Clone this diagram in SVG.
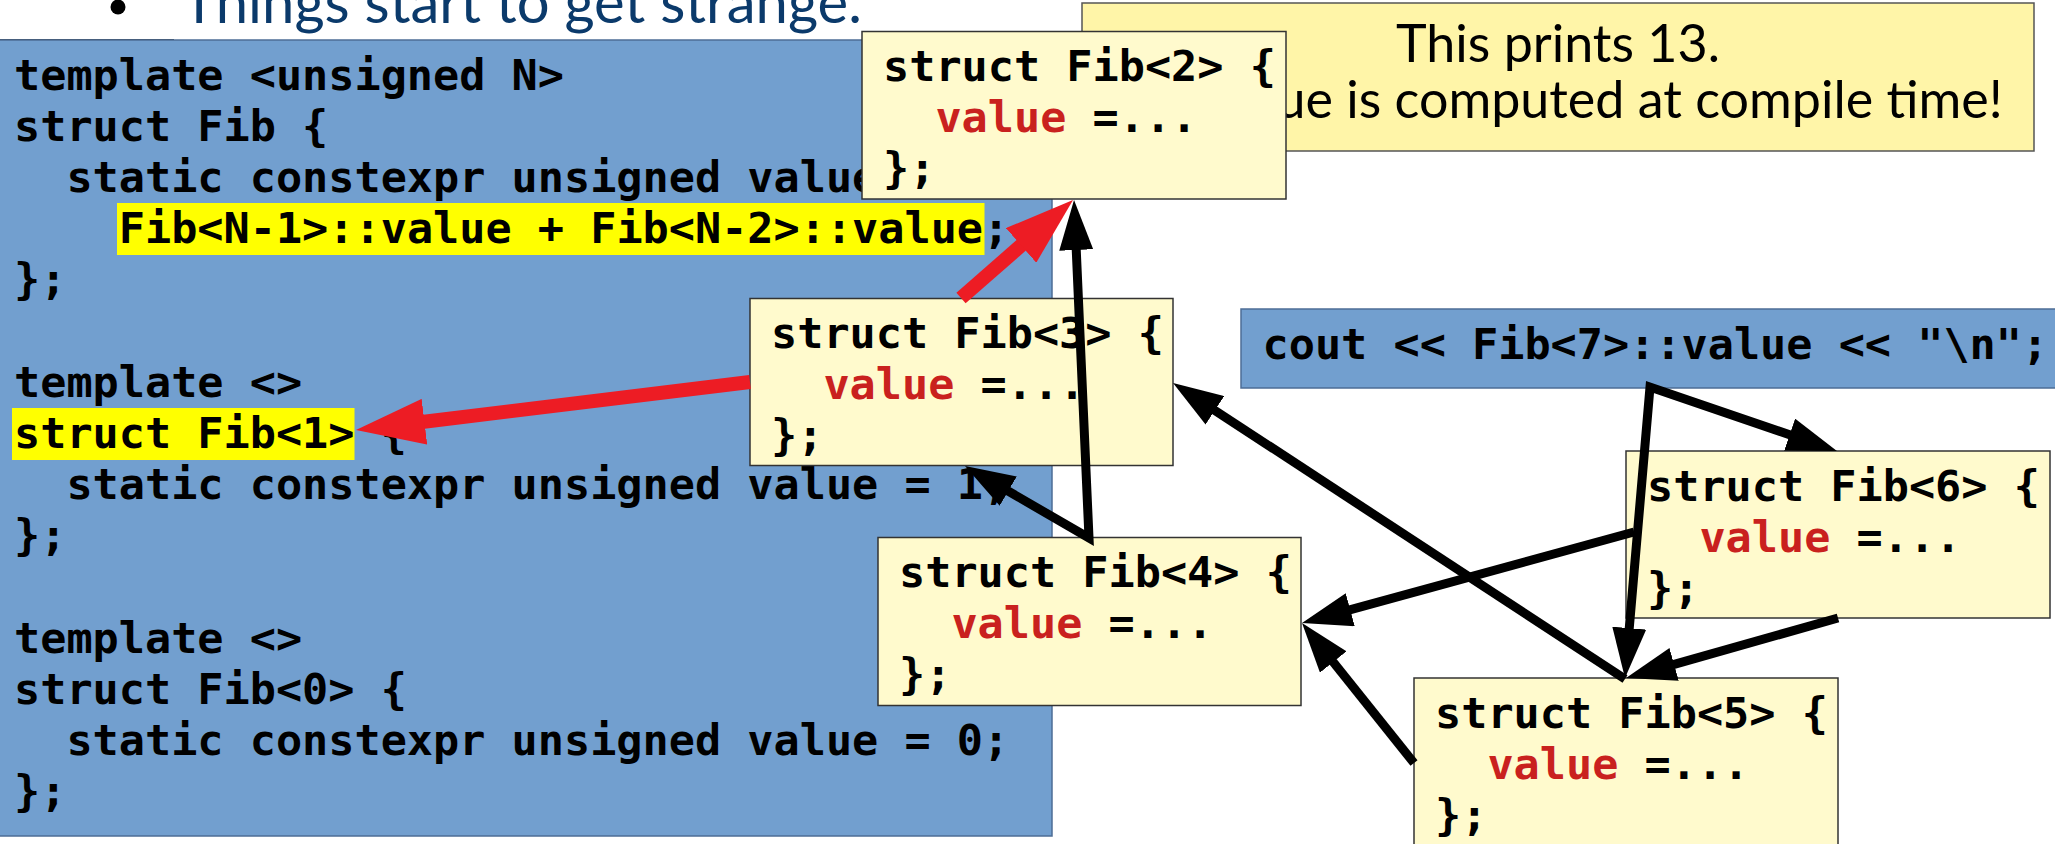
<svg xmlns="http://www.w3.org/2000/svg" width="2055" height="844" viewBox="0 0 2055 844">
  <style>
    .code { font-family: "DejaVu Sans Mono", "Liberation Mono", monospace; font-weight: bold; font-size: 43.5px; fill: #000; }
    .kw { fill: #c9211e; }
    .fib rect { fill: #fffacd; stroke: #333; stroke-width: 1.5; }
    .panel { fill: #729fcf; stroke: #4d6d96; stroke-width: 1.5; }
    .hl { fill: #ffff00; }
    .note { font-family: Lato, "Open Sans", sans-serif; font-size: 52px; fill: #000; }
    .title { font-family: Lato, "Open Sans", sans-serif; font-size: 58px; fill: #0b3a6b; }
    .blk { stroke: #000; stroke-width: 9; fill: none; stroke-linejoin: miter; }
    .red { stroke: #ed1c24; stroke-width: 14; fill: none; }
  </style>
  <defs>
    <marker id="headBlack" markerUnits="userSpaceOnUse" markerWidth="50" markerHeight="34" refX="10" refY="17" orient="auto-start-reverse">
      <path d="M0,0 L50,17 L0,34 z" fill="#000"/>
    </marker>
    <marker id="headRed" markerUnits="userSpaceOnUse" markerWidth="69" markerHeight="46" refX="19" refY="23" orient="auto">
      <path d="M0,0 L69,23 L0,46 z" fill="#ed1c24"/>
    </marker>
  </defs>

  <!-- slide heading -->
  <g id="heading">
    <circle cx="118" cy="7" r="7.5" fill="#000"/>
    <text class="title" x="182" y="23">Things start to get strange.</text>
  </g>

  <!-- primary template and its specialisations -->
  <g id="source">
    <line x1="0" y1="39.5" x2="174" y2="39.5" stroke="#333" stroke-width="1"/>
    <rect class="panel" x="-2" y="40" width="1054" height="796"/>
    <rect class="hl" x="117" y="203" width="867.5" height="52"/>
    <rect class="hl" x="12" y="408" width="342.5" height="52"/>
    <text class="code" x="14" y="89.6">template &lt;unsigned N&gt;</text>
    <text class="code" x="14" y="140.8">struct Fib {</text>
    <text class="code" x="66.4" y="192">static constexpr unsigned value =</text>
    <text class="code" x="118.8" y="243.2">Fib&lt;N-1&gt;::value + Fib&lt;N-2&gt;::value;</text>
    <text class="code" x="14" y="294.4">};</text>
    <text class="code" x="14" y="396.8">template &lt;&gt;</text>
    <text class="code" x="14" y="448">struct Fib&lt;1&gt; {</text>
    <text class="code" x="66.4" y="499.2">static constexpr unsigned value = 1;</text>
    <text class="code" x="14" y="550.4">};</text>
    <text class="code" x="14" y="652.8">template &lt;&gt;</text>
    <text class="code" x="14" y="704">struct Fib&lt;0&gt; {</text>
    <text class="code" x="66.4" y="755.2">static constexpr unsigned value = 0;</text>
    <text class="code" x="14" y="806.4">};</text>
  </g>

  <!-- explanatory note -->
  <g id="note">
    <rect x="1082" y="3" width="952" height="148" fill="#fff5a8" stroke="#555" stroke-width="1.5"/>
    <text class="note" x="1558" y="62" text-anchor="middle">This prints 13.</text>
    <text class="note" x="1558" y="118" text-anchor="middle">The value is computed at compile time!</text>
  </g>

  <!-- the statement that triggers instantiation -->
  <g id="main">
    <rect class="panel" x="1241" y="309" width="830" height="79"/>
    <text class="code" x="1262.5" y="359">cout &lt;&lt; Fib&lt;7&gt;::value &lt;&lt; "\n";</text>
  </g>

  <!-- instantiated structs -->
  <g id="fib2" class="fib">
    <rect x="862" y="31.5" width="424" height="167.5"/>
    <text class="code" x="883" y="81">struct Fib&lt;2&gt; {</text>
    <text class="code" x="935.4" y="132.2"><tspan class="kw">value</tspan> =...</text>
    <text class="code" x="883" y="183.4">};</text>
  </g>
  <g id="fib3" class="fib">
    <rect x="750" y="298.5" width="423" height="167"/>
    <text class="code" x="771" y="348">struct Fib&lt;3&gt; {</text>
    <text class="code" x="823.4" y="399.2"><tspan class="kw">value</tspan> =...</text>
    <text class="code" x="771" y="450.4">};</text>
  </g>
  <g id="fib4" class="fib">
    <rect x="878" y="537.5" width="423" height="168"/>
    <text class="code" x="899" y="587">struct Fib&lt;4&gt; {</text>
    <text class="code" x="951.4" y="638.2"><tspan class="kw">value</tspan> =...</text>
    <text class="code" x="899" y="689.4">};</text>
  </g>
  <g id="fib5" class="fib">
    <rect x="1414" y="678" width="424" height="168"/>
    <text class="code" x="1435" y="727.5">struct Fib&lt;5&gt; {</text>
    <text class="code" x="1487.4" y="778.7"><tspan class="kw">value</tspan> =...</text>
    <text class="code" x="1435" y="829.9">};</text>
  </g>
  <g id="fib6" class="fib">
    <rect x="1626" y="451" width="424" height="167"/>
    <text class="code" x="1647" y="500.5">struct Fib&lt;6&gt; {</text>
    <text class="code" x="1699.4" y="551.7"><tspan class="kw">value</tspan> =...</text>
    <text class="code" x="1647" y="602.9">};</text>
  </g>

  <!-- dependency arrows -->
  <g id="connectors">
    <path class="red" d="M750,382 L405.6,424" marker-end="url(#headRed)"/>
    <path class="red" d="M961,298 L1035.4,232.9" marker-end="url(#headRed)"/>
    <path class="blk" d="M999.6,486.1 L1089,538 L1075.8,240" marker-start="url(#headBlack)" marker-end="url(#headBlack)"/>
    <path class="blk" d="M1799.1,438 L1650,387 L1628.4,638.1" marker-start="url(#headBlack)" marker-end="url(#headBlack)"/>
    <path class="blk" d="M1634,532 L1340.6,612.4" marker-end="url(#headBlack)"/>
    <path class="blk" d="M1838,618 L1664.5,667.1" marker-end="url(#headBlack)"/>
    <path class="blk" d="M1625,679 L1206.5,404.9" marker-end="url(#headBlack)"/>
    <path class="blk" d="M1414,763 L1327,654.2" marker-end="url(#headBlack)"/>
  </g>
</svg>
